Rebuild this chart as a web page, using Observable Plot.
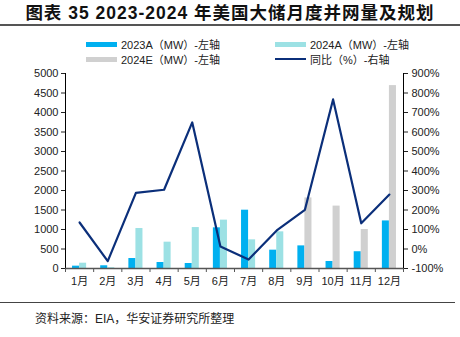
<!DOCTYPE html>
<html><head><meta charset="utf-8">
<script src="https://cdn.jsdelivr.net/npm/d3@7"></script>
<script src="https://cdn.jsdelivr.net/npm/@observablehq/plot@0.6"></script>
<style>
body{margin:0;width:460px;height:337px;background:#fff;position:relative;overflow:hidden;font-family:"Liberation Sans","Noto Sans CJK SC",sans-serif;}
#title{position:absolute;left:0;top:0;width:460px;height:26px;border-bottom:2px solid #555;box-sizing:border-box;text-align:center;font-weight:bold;font-size:17.5px;line-height:26px;letter-spacing:1px;color:#111;}
#legend{position:absolute;left:0;top:36px;width:460px;font-size:11px;color:#222;}
.item{position:absolute;display:flex;align-items:center;white-space:nowrap;}
.sw{display:inline-block;width:31px;height:5px;margin-right:4px;}
.ln{display:inline-block;width:31px;height:2px;margin-right:4px;}
#chart{position:absolute;left:0;top:60px;}
#foot{position:absolute;left:0;top:302px;width:455px;border-top:1.5px solid #444;}
#src{position:absolute;left:35px;top:309px;font-size:12px;color:#222;}
</style></head><body>
<div id="title">图表 35 2023-2024 年美国大储月度并网量及规划</div>
<div id="legend"></div>
<div id="chart"></div>
<div id="foot"></div>
<div id="src">资料来源：EIA，华安证券研究所整理</div>
<script>
const months = ["1月","2月","3月","4月","5月","6月","7月","8月","9月","10月","11月","12月"];
const s2023A = [60,70,256,154,128,1043,1495,470,580,180,430,1220];
const s2024A = [136,20,1025,675,1050,1240,735,940,null,null,null,null];
const s2024E = [null,null,null,null,null,null,null,null,1810,1600,1000,4690];
const yoy = [136,-62,288,304,649,13,-54,95,201,767,132,279];
const leftTicks = [0,500,1000,1500,2000,2500,3000,3500,4000,4500,5000];
const rightTicks = [-100,0,100,200,300,400,500,600,700,800,900];
const seriesNames = ["2023A（MW）-左轴","2024A（MW）-左轴","2024E（MW）-左轴","同比（%）-右轴"];
const colors = ["#00B0F0","#9CE1E4","#D0D0D0","#0B2F7A"];

// legend
const leg = document.getElementById("legend");
const pos = [[86,0],[275,0],[86,15],[275,15]];
seriesNames.forEach((n,i)=>{
  const d=document.createElement("div");d.className="item";
  d.style.left=pos[i][0]+"px";d.style.top=pos[i][1]+"px";
  const s=document.createElement("span");s.className=i===3?"ln":"sw";s.style.background=colors[i];
  d.appendChild(s);const t=document.createElement("span");t.textContent=n;d.appendChild(t);
  leg.appendChild(d);
});

const idx = months.map((m,i)=>i+1);
const barsA = idx.map((i,k)=>({i, v:s2023A[k]}));
const barsB = idx.map((i,k)=>({i, v: s2024A[k]!=null ? s2024A[k] : s2024E[k], e: s2024A[k]==null}));
// map percent onto left scale: -100% -> 0, 900% -> 5000
const toLeft = p => (p+100)*5;
const lineData = idx.map((i,k)=>({i, v: toLeft(yoy[k])}));
const bounds = d3.range(0.5, 13, 1);
const w = 0.25;

const chart = Plot.plot({
  width: 460, height: 240,
  marginLeft: 65, marginRight: 57, marginTop: 13, marginBottom: 32,
  style: {fontFamily: '"Liberation Sans","Noto Sans CJK SC",sans-serif', fontSize: "11px", color:"#222"},
  x: {type:"linear", domain:[0.5,12.5], axis:null},
  y: {domain:[0,5000], axis:null},
  marks: [
    Plot.rectY(barsA, {x1: d=>d.i-w, x2: d=>d.i, y: "v", fill: colors[0]}),
    Plot.rectY(barsB, {x1: d=>d.i, x2: d=>d.i+w, y: "v", fill: d=>d.e?colors[2]:colors[1]}),
    Plot.line(lineData, {x:"i", y:"v", stroke: colors[3], strokeWidth: 2.2}),
    Plot.axisY({anchor:"left", label:null, ticks: leftTicks, tickSize:4, tickPadding:3, tickFormat: d=>String(d)}),
    Plot.ruleX([0.5], {stroke:"#000", strokeWidth:1}),
    Plot.axisY({anchor:"right", label:null, ticks: rightTicks.map(toLeft), tickSize:4, tickPadding:4, tickFormat: (d,k)=>rightTicks[k]+"%"}),
    Plot.ruleX([12.5], {stroke:"#000", strokeWidth:1}),
    Plot.ruleY([0], {stroke:"#555", strokeWidth:1.5}),
    Plot.axisX({anchor:"bottom", label:null, ticks: bounds, tickSize:4, tickFormat: ()=>"", stroke:"#555"}),
    Plot.axisX({anchor:"bottom", label:null, ticks: idx, tickSize:0, tickPadding:9, tickFormat: (d)=>months[d-1]})
  ]
});
document.getElementById("chart").appendChild(chart);
</script>
</body></html>
